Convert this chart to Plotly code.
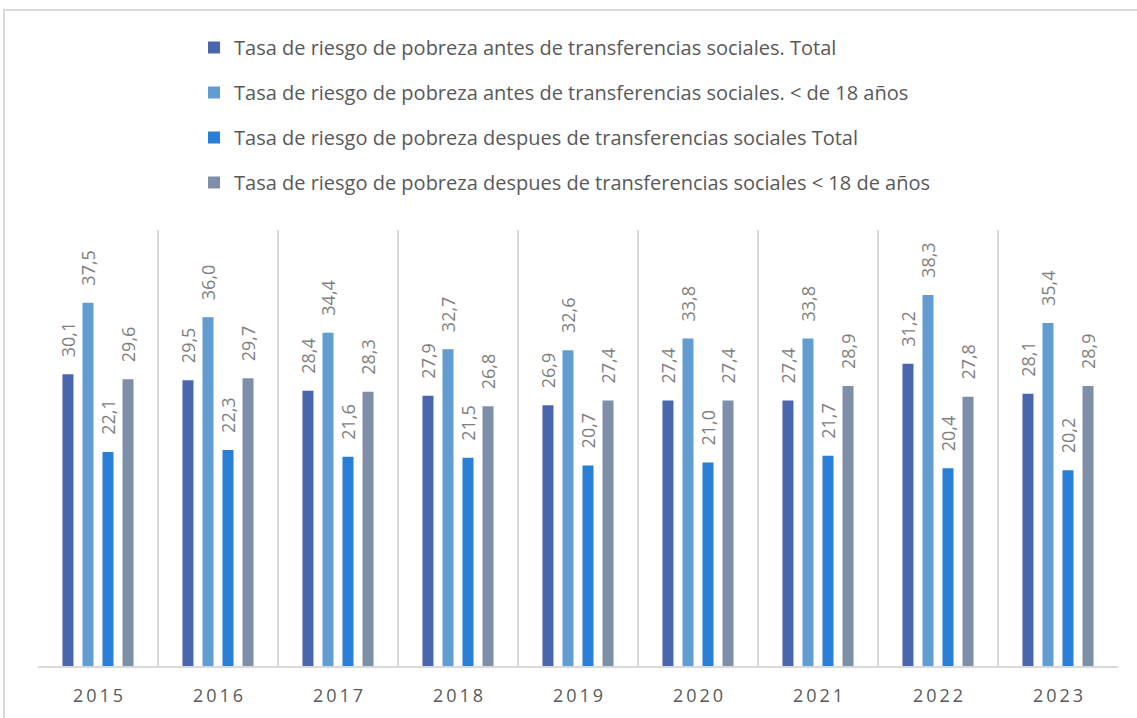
import plotly.graph_objects as go

years = ["2015", "2016", "2017", "2018", "2019", "2020", "2021", "2022", "2023"]
antes_total = [30.1, 29.5, 28.4, 27.9, 26.9, 27.4, 27.4, 31.2, 28.1]
antes_menores = [37.5, 36.0, 34.4, 32.7, 32.6, 33.8, 33.8, 38.3, 35.4]
despues_total = [22.1, 22.3, 21.6, 21.5, 20.7, 21.0, 21.7, 20.4, 20.2]
despues_menores = [29.6, 29.7, 28.3, 26.8, 27.4, 27.4, 28.9, 27.8, 28.9]

series_names = [
    "Tasa de riesgo de pobreza antes de transferencias sociales. Total",
    "Tasa de riesgo de pobreza antes de transferencias sociales. < de 18 años",
    "Tasa de riesgo de pobreza despues de transferencias sociales Total",
    "Tasa de riesgo de pobreza despues de transferencias sociales < 18 de años",
]
series_values = [antes_total, antes_menores, despues_total, despues_menores]
series_colors = ["#4A66AC", "#629DD1", "#297FD5", "#7F8FA9"]

FONT = "Open Sans"
W, H = 1137, 718
L, R, T, B = 38, 19, 230, 52
plot_w = W - L - R
plot_h = H - T - B

x_pos = list(range(len(years)))

fig = go.Figure()
for i, (name, vals, col) in enumerate(zip(series_names, series_values, series_colors)):
    fig.add_trace(go.Bar(
        x=x_pos, y=vals, name=name,
        marker=dict(color=col, line=dict(width=0)),
        texttemplate="\u00a0\u00a0\u00a0%{y:.1f}",
        textposition="outside",
        textangle=-90,
        constraintext="none",
        cliponaxis=False,
        textfont=dict(family=FONT, size=18, color="#7F7F7F"),
        legendgroup=f"g{i}",
    ))


def px_x(px):
    return (px - L) / plot_w


def px_y(py):
    return (H - B - py) / plot_h


# outer chart frame
fig.add_shape(type="rect", xref="paper", yref="paper",
              x0=px_x(4), x1=px_x(W + 10), y0=px_y(H + 10), y1=px_y(10),
              line=dict(color="#D9D9D9", width=2), fillcolor="rgba(0,0,0,0)", layer="below")

spaced_years = ["\u2009".join(y) for y in years]

fig.update_layout(
    width=W, height=H,
    margin=dict(l=L, r=R, t=T, b=B),
    paper_bgcolor="white", plot_bgcolor="white",
    separators=",.",
    barmode="group", bargap=0.333, bargroupgap=0.45,
    showlegend=True,
    legend=dict(
        x=px_x(194), y=px_y(28), xanchor="left", yanchor="top",
        orientation="v", traceorder="grouped", tracegroupgap=16,
        font=dict(family=FONT, size=20, color="#595959"),
        bgcolor="rgba(0,0,0,0)",
    ),
    xaxis=dict(
        range=[-0.5, len(years) - 0.5],
        tickvals=x_pos, ticktext=spaced_years,
        tickfont=dict(family=FONT, size=18, color="#595959"),
        showgrid=False, zeroline=False,
        showline=True, linecolor="#D9D9D9", linewidth=2,
        ticks="", ticklabelstandoff=12,
        minor=dict(tick0=0.5, dtick=1, showgrid=True, gridcolor="#D9D9D9", gridwidth=2),
    ),
    yaxis=dict(range=[0, 45], visible=False, showgrid=False),
)

fig.write_html("out.html")
